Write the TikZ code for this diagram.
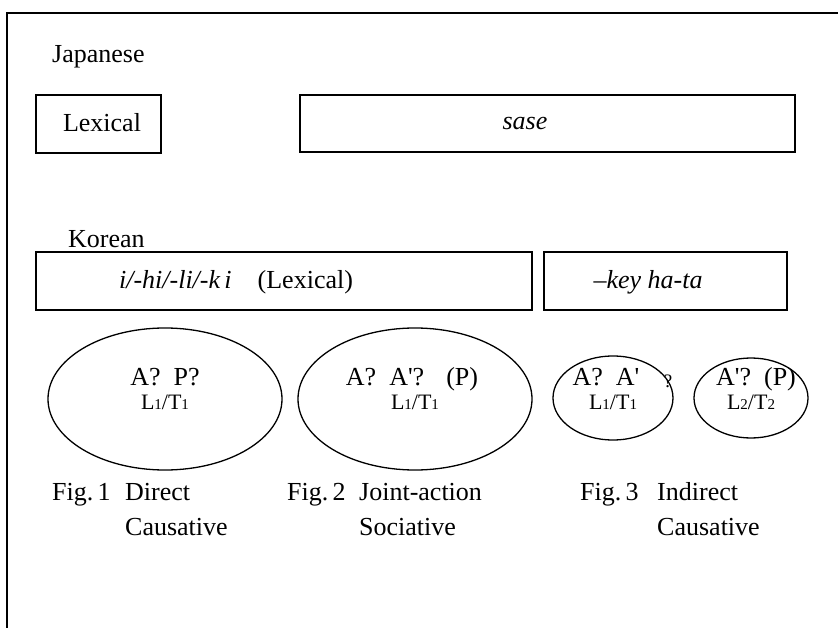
\documentclass[tikz,border=0pt]{standalone}
\usepackage{fontspec}
\setmainfont{Liberation Serif}
\usetikzlibrary{shapes.geometric}
\begin{document}
\begin{tikzpicture}[x=1pt,y=-1pt,
  every node/.style={inner sep=0pt,font=\fontsize{26}{30}\selectfont},
  boxshape/.style={draw,line width=1.3pt,rectangle,minimum width=#1},
  ell/.style={draw,line width=1.3pt,ellipse},
  txt/.style={anchor=base},
  lt/.style={anchor=base,font=\fontsize{22}{26}\selectfont}]
\newcommand\smallsub[1]{{\fontsize{15}{16}\selectfont #1}}
\newcommand\apo{\textquotesingle}
\useasboundingbox (0,0) rectangle (838,628);
% frame
\coordinate (fr1) at (7,628);
\coordinate (fr2) at (7,13);
\coordinate (fr3) at (838,13);
\draw[line width=1.3pt] (fr1) -- (fr2) -- (fr3);
% Japanese
\node[txt,anchor=base west] (jap) at (52,63) {Japanese};
\node[boxshape=125pt,minimum height=58pt] (lexbox) at (98.5,124) {};
\node[txt] (lex) at (102,132) {Lexical};
\node[boxshape=495pt,minimum height=57pt] (sasebox) at (547.5,123.5) {};
\node[txt] (sase) at (525,130) {\itshape sase};
% Korean
\node[txt,anchor=base west] (kor) at (68,248) {Korean};
\node[boxshape=496pt,minimum height=58pt] (korbox) at (284,281) {};
\node[txt] (kortext) at (236,289) {\itshape i/-hi/-li/-k\,i\upshape\quad(Lexical)};
\node[boxshape=243pt,minimum height=58pt] (keybox) at (665.5,281) {};
\node[txt] (keytext) at (648,289) {\itshape --key ha-ta};
% ellipses
\node[ell,minimum width=234pt,minimum height=142pt] (e1) at (165,399) {};
\node[ell,minimum width=234pt,minimum height=142pt] (e2) at (415,399) {};
\node[ell,minimum width=120pt,minimum height=84pt] (e3) at (613,398) {};
\node[ell,minimum width=114pt,minimum height=80pt] (e4) at (751,398) {};
% ellipse texts
\node[txt] (t1a) at (165,385) {A?\enspace P?};
\node[lt] (t1b) at (165,409) {L\smallsub{1}/T\smallsub{1}};
\node[txt] (t2a) at (412,385) {A?\enspace A\apo?\hspace{22pt}(P)};
\node[lt] (t2b) at (415,409) {L\smallsub{1}/T\smallsub{1}};
\node[txt] (t3a) at (606,385) {A?\enspace A\apo};
\node[lt] (t3b) at (613,409) {L\smallsub{1}/T\smallsub{1}};
\node[txt,font=\fontsize{19}{20}\selectfont] (t3q) at (668,387) {?};
\node[txt] (t4a) at (756,385) {A\apo?\enspace (P)};
\node[lt] (t4b) at (751,409) {L\smallsub{2}/T\smallsub{2}};
% captions
\node[txt,anchor=base west] (f1) at (52,500) {Fig.\,1};
\node[txt,anchor=base west] (f1a) at (125,500) {Direct};
\node[txt,anchor=base west] (f1b) at (125,535) {Causative};
\node[txt,anchor=base west] (f2) at (287,500) {Fig.\,2};
\node[txt,anchor=base west] (f2a) at (359,500) {Joint-action};
\node[txt,anchor=base west] (f2b) at (359,535) {Sociative};
\node[txt,anchor=base west] (f3) at (580,500) {Fig.\,3};
\node[txt,anchor=base west] (f3a) at (657,500) {Indirect};
\node[txt,anchor=base west] (f3b) at (657,535) {Causative};
\end{tikzpicture}
\end{document}
